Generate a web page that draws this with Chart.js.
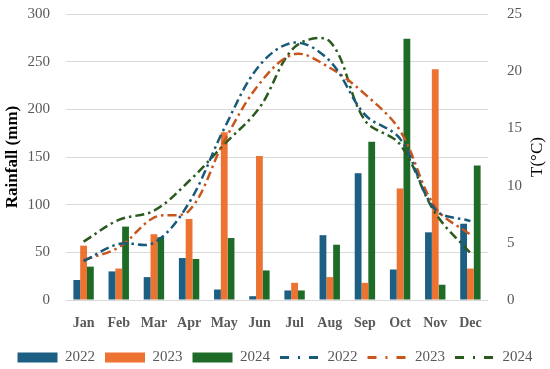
<!DOCTYPE html>
<html>
<head>
<meta charset="utf-8">
<script src="https://cdn.jsdelivr.net/npm/chart.js@4.4.1/dist/chart.umd.min.js"></script>
<style>
  html, body { margin: 0; padding: 0; background: #fff; }
  #wrap { width: 550px; height: 369px; }
</style>
</head>
<body>
<div id="wrap"><canvas id="chart" width="550" height="369"></canvas></div>
<script>
// Months on the x axis
const months = ['Jan', 'Feb', 'Mar', 'Apr', 'May', 'Jun', 'Jul', 'Aug', 'Sep', 'Oct', 'Nov', 'Dec'];

// Monthly rainfall (mm), left axis
const rain2022 = [21, 30, 24, 44, 11, 4, 10, 68, 133, 32, 71, 80];
const rain2023 = [57, 33, 69, 85, 176, 151, 18, 24, 18, 117, 242, 33];
const rain2024 = [35, 77, 66, 43, 65, 31, 10, 58, 166, 274, 16, 141];

// Monthly mean temperature (°C), right axis
const temp2022 = [3.4, 4.9, 5.0, 8.5, 15.0, 20.5, 22.5, 20.9, 16.2, 14.1, 7.9, 6.9];
const temp2023 = [3.5, 4.6, 7.2, 7.8, 13.9, 18.9, 21.5, 20.3, 18.0, 14.8, 8.1, 5.7];
const temp2024 = [5.1, 7.0, 7.8, 10.4, 13.6, 16.8, 22.1, 22.6, 15.7, 13.6, 7.6, 4.1];

const serif = "'Liberation Serif', 'DejaVu Serif', serif";
const grey = '#595959';
const dashDot = [9, 4, 2.5, 4];

function barSet(label, data, color) {
    return {
        type: 'bar',
        label: label,
        data: data,
        backgroundColor: color,
        borderWidth: 0,
        yAxisID: 'y',
        order: 2,
        barPercentage: 1,
        categoryPercentage: 0.58
    };
}

function lineSet(label, data, color) {
    return {
        type: 'line',
        label: label,
        data: data,
        borderColor: color,
        backgroundColor: color,
        borderWidth: 2.5,
        borderDash: dashDot,
        pointRadius: 0,
        tension: 0.35,
        fill: false,
        yAxisID: 'y1',
        order: 1
    };
}

// right axis title reads bottom-to-top, so draw it by hand
const rightTitle = {
    id: 'rightTitle',
    afterDraw: function (chart) {
        const ctx = chart.ctx;
        const area = chart.chartArea;
        ctx.save();
        ctx.translate(538, (area.top + area.bottom) / 2);
        ctx.rotate(-Math.PI / 2);
        ctx.fillStyle = '#000';
        ctx.font = '17px ' + serif;
        ctx.textAlign = 'center';
        ctx.textBaseline = 'middle';
        ctx.fillText('T(°C)', 0, 0);
        ctx.restore();
    }
};

new Chart(document.getElementById('chart').getContext('2d'), {
    type: 'bar',
    data: {
        labels: months,
        datasets: [
            barSet('2022', rain2022, '#1c5f82'),
            barSet('2023', rain2023, '#ed7332'),
            barSet('2024', rain2024, '#1e6b28'),
            lineSet('2022', temp2022, '#175a7a'),
            lineSet('2023', temp2023, '#c8561c'),
            lineSet('2024', temp2024, '#2b5a1e')
        ]
    },
    plugins: [rightTitle],
    options: {
        responsive: false,
        animation: false,
        layout: { padding: { top: 14, left: 0, right: 0, bottom: -6 } },
        plugins: {
            tooltip: { enabled: false },
            legend: {
                position: 'bottom',
                labels: {
                    usePointStyle: true,
                    pointStyleWidth: 40,
                    boxHeight: 10,
                    padding: 10,
                    color: grey,
                    font: { family: serif, size: 15 },
                    sort: function (a, b) { return a.datasetIndex - b.datasetIndex; },
                    generateLabels: function (chart) {
                        const items = Chart.defaults.plugins.legend.labels.generateLabels(chart);
                        items.forEach(function (item) {
                            const ds = chart.data.datasets[item.datasetIndex];
                            if (ds.type === 'line') {
                                item.pointStyle = 'line';
                                item.lineWidth = 3;
                                item.lineDash = [9, 9, 2, 9];
                                item.strokeStyle = ds.borderColor;
                            } else {
                                item.pointStyle = 'rect';
                                item.lineWidth = 0;
                            }
                        });
                        return items;
                    }
                }
            }
        },
        scales: {
            x: {
                grid: { display: false },
                border: { display: false },
                afterFit: function (scale) { scale.height = 40; },
                ticks: {
                    color: grey,
                    padding: 7,
                    font: { family: serif, size: 14, weight: 'bold' }
                }
            },
            y: {
                position: 'left',
                min: 0,
                max: 300,
                grid: { color: '#d9d9d9', lineWidth: 1, drawTicks: false },
                border: { display: false },
                afterFit: function (scale) { scale.width = 66; scale.paddingTop = 0; },
                ticks: {
                    stepSize: 50,
                    color: grey,
                    padding: 16,
                    font: { family: serif, size: 15 }
                },
                title: {
                    display: true,
                    text: 'Rainfall (mm)',
                    color: '#000',
                    padding: { top: 2, bottom: 0 },
                    font: { family: serif, size: 17, weight: 'bold' }
                }
            },
            y1: {
                position: 'right',
                min: 0,
                max: 25,
                grid: { display: false, drawTicks: false },
                border: { display: false },
                afterFit: function (scale) { scale.width = 62; scale.paddingTop = 0; },
                ticks: {
                    stepSize: 5,
                    color: grey,
                    padding: 19,
                    font: { family: serif, size: 15 }
                }
            }
        }
    }
});
</script>
</body>
</html>
